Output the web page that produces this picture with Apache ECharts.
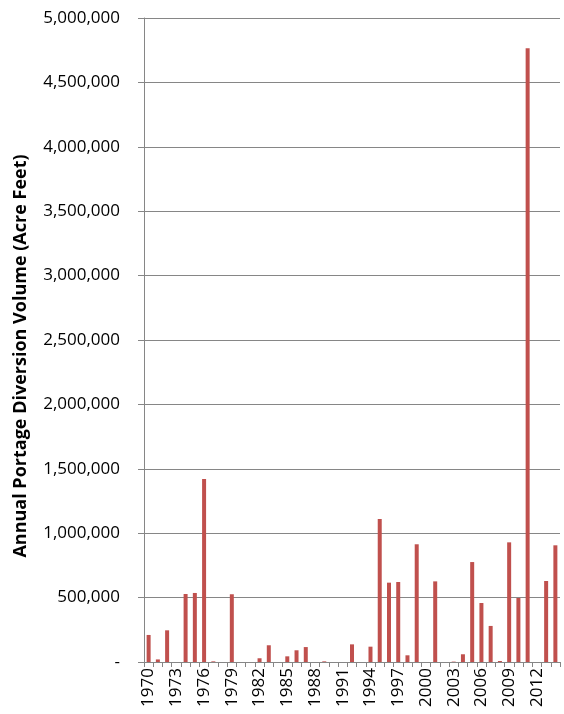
<html>
<head>
  <meta charset="utf-8">
  <title></title>
  <style>
    html, body { margin: 0; padding: 0; background: #fff; }
  </style>
</head>
<body>
  <div id="main" style="width: 564px;height:714px;"></div>
</body>
<script src="https://cdn.jsdelivr.net/npm/echarts@6/dist/echarts.min.js"></script>
<script>
  // years 1970 - 2014
  let years = [];
  for (let y = 1970; y <= 2014; y++) years.push(String(y));

  // annual portage diversion volume, acre feet
  let volumes = [
    210000, 20000, 246000, 0, 528000, 536000, 1420000, 5000, 0, 526000,   // 1970-1979
    0, 0, 29000, 130000, 0, 44000, 91000, 116000, 0, 5000,                // 1980-1989
    0, 0, 137000, 0, 119000, 1110000, 616000, 621000, 52000, 914000,     // 1990-1999
    0, 626000, 0, 3000, 60000, 776000, 458000, 280000, 8000, 929000,      // 2000-2009
    497000, 4765000, 0, 629000, 906000                                     // 2010-2014
  ];

  let yTitle = 'Annual Portage Diversion Volume (Acre Feet)';

  var myChart = echarts.init(document.getElementById('main'));

  let gray = '#868686';
  let font = 'Open Sans';

  option = {
    animation: false,
    grid: { left: 144, right: 4, top: 18, bottom: 52, outerBoundsMode: 'none' },
    xAxis: {
      type: 'category',
      data: years,
      axisLine: { lineStyle: { color: gray } },
      axisTick: { show: true, interval: 0, length: 5, lineStyle: { color: gray } },
      axisLabel: {
        interval: 2, rotate: 90, margin: 6,
        color: '#000', fontFamily: font, fontSize: 17
      }
    },
    yAxis: {
      type: 'value',
      min: 0, max: 5000000, interval: 500000,
      name: yTitle,
      nameLocation: 'middle',
      nameGap: 114,
      nameTextStyle: { color: '#000', fontFamily: font, fontSize: 18, fontWeight: 'bold', padding: [0, 0, 0, -32] },
      axisLine: { show: true, lineStyle: { color: gray } },
      axisTick: { show: true, length: 6, lineStyle: { color: gray } },
      splitLine: { lineStyle: { color: gray, width: 1 } },
      axisLabel: {
        margin: 24, color: '#000', fontFamily: font, fontSize: 17,
        formatter: function (v) { return v === 0 ? '-' : v.toLocaleString('en-US'); }
      }
    },
    series: [{
      type: 'bar',
      data: volumes,
      barWidth: 4,
      itemStyle: { color: '#c0504d' }
    }]
  };

  myChart.setOption(option);
</script>
</html>
